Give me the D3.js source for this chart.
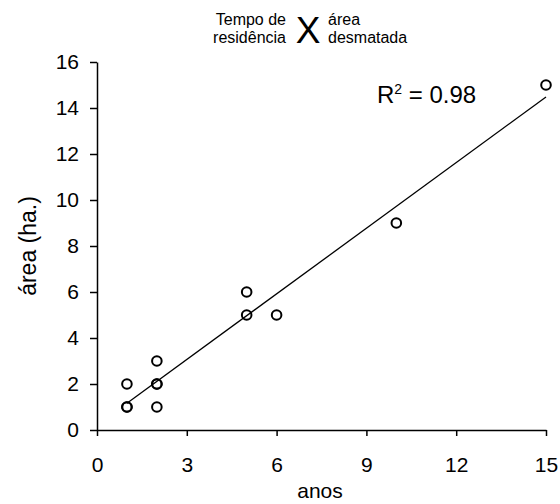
<!DOCTYPE html>
<html>
<head>
<meta charset="utf-8">
<script src="https://cdn.jsdelivr.net/npm/d3@7"></script>
<style>
  body { margin: 0; background: #fff; }
  svg { font-family: "Liberation Sans", Arial, sans-serif; }
</style>
</head>
<body>
<div id="plot"></div>
<script>
// anos de residência x área desmatada (ha.)
const anos = [1, 1, 1, 2, 2, 2, 2, 5, 5, 6, 10, 15];
const area = [1, 1, 2, 1, 2, 2, 3, 5, 6, 5, 9, 15];
const xTicks = [0, 3, 6, 9, 12, 15];
const yTicks = [0, 2, 4, 6, 8, 10, 12, 14, 16];
const r2Label = '0.98';

const svgWidth = 560;
const svgHeight = 504;

const svg = d3.select('#plot').append('svg')
    .attr('width', svgWidth)
    .attr('height', svgHeight);

let x = d3.scaleLinear().domain([0, 15]).range([97, 546]);
let y = d3.scaleLinear().domain([0, 16]).range([430, 62]);

// eixos
const xAxis = svg.append('g')
    .attr('transform', `translate(0,${y(0)})`)
    .call(d3.axisBottom(x).tickValues(xTicks).tickSize(6).tickSizeOuter(0).tickPadding(21));
const yAxis = svg.append('g')
    .attr('transform', `translate(${x(0)},0)`)
    .call(d3.axisLeft(y).tickValues(yTicks).tickSize(7).tickSizeOuter(0).tickPadding(11));

[xAxis, yAxis].forEach(a => {
  a.selectAll('path, line').attr('stroke', '#000').attr('stroke-width', 1.5);
  a.selectAll('text')
      .attr('fill', '#000')
      .style('font-size', '21px')
      .style('font-family', '"Liberation Sans", Arial, sans-serif');
});

// reta de regressão (mínimos quadrados)
const mx = d3.mean(anos), my = d3.mean(area);
const sxy = d3.sum(anos, (d, i) => (d - mx) * (area[i] - my));
const sxx = d3.sum(anos, d => (d - mx) * (d - mx));
const slope = sxy / sxx;
const intercept = my - slope * mx;
const xr = d3.extent(anos);

svg.append('path')
    .attr('fill', 'none')
    .attr('stroke', '#000')
    .attr('stroke-width', 1.3)
    .attr('d', d3.line()
        .x(d => x(d))
        .y(d => y(intercept + slope * d))(xr));

// pontos
svg.selectAll('.pt')
    .data(anos.map((a, i) => ({a, v: area[i]})))
    .enter()
    .append('circle')
    .attr('cx', d => x(d.a))
    .attr('cy', d => y(d.v))
    .attr('r', 4.8)
    .attr('fill', 'none')
    .attr('stroke', '#000')
    .attr('stroke-width', 2);

// R²
const r2 = svg.append('text')
    .attr('x', 377)
    .attr('y', 103)
    .style('font-size', '24px');
r2.append('tspan').text('R');
r2.append('tspan').attr('dy', -9).style('font-size', '14px').text('2');
r2.append('tspan').attr('dy', 9).text(' = ' + r2Label);

// títulos dos eixos
svg.append('text')
    .attr('x', 320)
    .attr('y', 498)
    .attr('text-anchor', 'middle')
    .style('font-size', '21px')
    .text('anos');
svg.append('text')
    .attr('transform', `translate(36,${246}) rotate(-90)`)
    .attr('text-anchor', 'middle')
    .style('font-size', '23px')
    .text('área (ha.)');

// título
const title = svg.append('g');
title.append('text').attr('x', 286).attr('y', 25).attr('text-anchor', 'end')
    .style('font-size', '16px').text('Tempo de');
title.append('text').attr('x', 286).attr('y', 43).attr('text-anchor', 'end')
    .style('font-size', '16px').text('residência');
title.append('text').attr('x', 308).attr('y', 43).attr('text-anchor', 'middle')
    .style('font-size', '37px').text('X');
title.append('text').attr('x', 328).attr('y', 25)
    .style('font-size', '16px').text('área');
title.append('text').attr('x', 328).attr('y', 43)
    .style('font-size', '16px').text('desmatada');
</script>
</body>
</html>
